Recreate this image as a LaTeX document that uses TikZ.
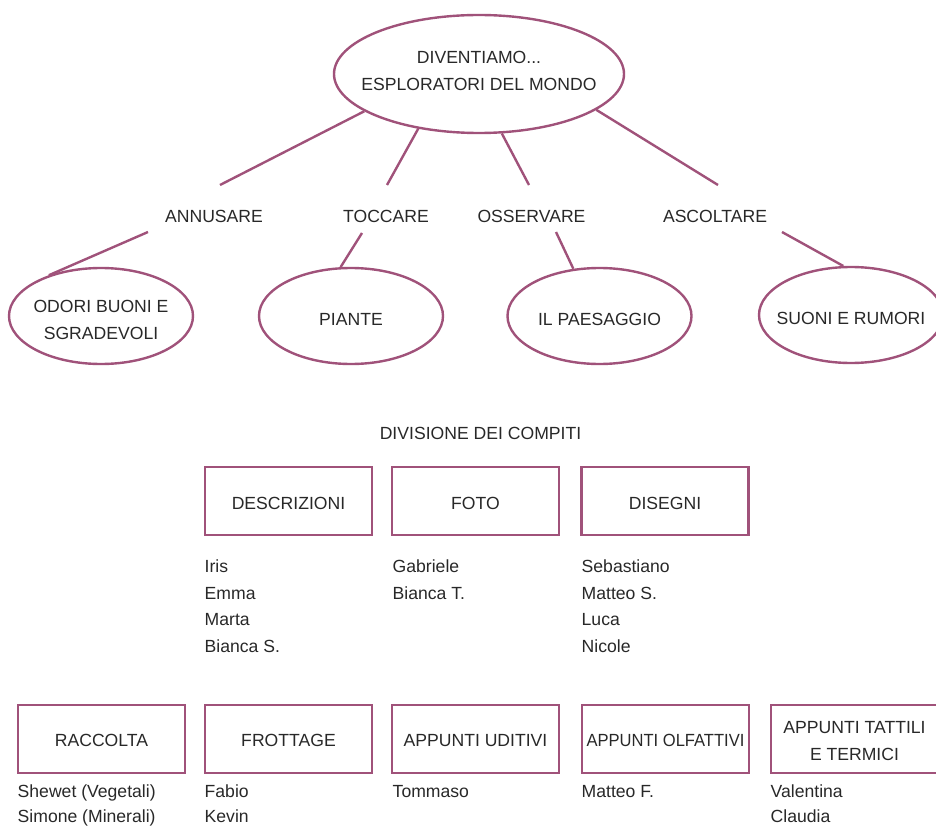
\documentclass[tikz,border=0pt]{standalone}
\usepackage{fontspec}
\setmainfont{Liberation Sans}
\usetikzlibrary{shapes.geometric}
\definecolor{mauve}{RGB}{160,82,122}
\definecolor{ink}{RGB}{40,40,40}
\newcommand{\downstrut}[1]{\rule{0pt}{#1}}
\newcommand{\upstrut}{\rule[-6pt]{0pt}{6pt}}
\begin{document}
\begin{tikzpicture}[x=1pt,y=-1pt,
  every node/.style={text=ink,font=\fontsize{17.6}{26.7}\selectfont,inner sep=0pt},
  oval/.style={ellipse,draw=mauve,line width=2.4pt,minimum width=184pt,minimum height=96pt,align=center,inner xsep=-15pt},
  bigoval/.style={oval,minimum width=290pt,minimum height=118pt,inner xsep=-25pt},
  taskbox/.style={rectangle,draw=mauve,line width=2.4pt,minimum width=167pt,minimum height=68pt,align=center},
  conn/.style={draw=mauve,line width=2.4pt},
  lbl/.style={anchor=center},
  who/.style={anchor=base west}]
\useasboundingbox (0,0) rectangle (936,826);
\clip (0,0) rectangle (936,826);
% top
\node[bigoval] (top) at (479,74) {DIVENTIAMO...\\ESPLORATORI DEL MONDO\upstrut};
% verbs
\node[lbl] (ann) at (214,216) {ANNUSARE};
\node[lbl] (toc) at (386,216) {TOCCARE};
\node[lbl] (oss) at (531.5,216) {OSSERVARE};
\node[lbl] (asc) at (715,216) {ASCOLTARE};
\coordinate (annT) at (220,185);
\coordinate (tocT) at (387,185);
\coordinate (ossT) at (529,185);
\coordinate (ascT) at (718,185);
\draw[conn] (top.198) -- (annT);
\draw[conn] (top.222) -- (tocT);
\draw[conn] (top.291) -- (ossT);
\draw[conn] (top.343) -- (ascT);
% ovals
\node[oval] (odo) at (101,316) {\downstrut{20pt}ODORI BUONI E\\SGRADEVOLI};
\node[oval] (pia) at (351,316) {\downstrut{19pt}PIANTE};
\node[oval] (pae) at (599.5,316) {\downstrut{19pt}IL PAESAGGIO};
\node[oval] (suo) at (851,315) {\downstrut{19pt}SUONI E RUMORI};
\coordinate (annB) at (148,232);
\coordinate (tocB) at (362,233);
\coordinate (ossB) at (556,232);
\coordinate (ascB) at (782,232);
\draw[conn] (annB) -- (odo.142);
\draw[conn] (tocB) -- (pia.102);
\draw[conn] (ossB) -- (pae.119);
\draw[conn] (ascB) -- (suo.99);
% division
\node[lbl] (div) at (480.5,433) {DIVISIONE DEI COMPITI};
\node[taskbox] (des) at (288.5,501) {\downstrut{17pt}DESCRIZIONI};
\node[taskbox] (fot) at (475.5,501) {\downstrut{17pt}FOTO};
\node[taskbox] (dis) at (665,501) {\downstrut{17pt}DISEGNI};
\foreach \n [count=\i] in {Iris,Emma,Marta,Bianca S.}
  \node[who] (des\i) at (204.5,572.3+26.7*\i-26.7) {\n};
\foreach \n [count=\i] in {Gabriele,Bianca T.}
  \node[who] (fot\i) at (392.5,572.3+26.7*\i-26.7) {\n};
\foreach \n [count=\i] in {Sebastiano,Matteo S.,Luca,Nicole}
  \node[who] (dis\i) at (581.5,572.3+26.7*\i-26.7) {\n};
% row 2
\node[taskbox] (rac) at (101.5,739) {\downstrut{15pt}RACCOLTA};
\node[taskbox] (fro) at (288.5,739) {\downstrut{15pt}FROTTAGE};
\node[taskbox] (udi) at (475.5,739) {\downstrut{15pt}APPUNTI UDITIVI};
\node[taskbox] (olf) at (665.5,739) {\downstrut{15pt}\scalebox{0.94}[1]{APPUNTI OLFATTIVI}};
\node[taskbox] (tat) at (854.5,739) {\downstrut{16.5pt}APPUNTI TATTILI\\E TERMICI};
\foreach \n [count=\i] in {Shewet (Vegetali),Simone (Minerali)}
  \node[who] (rac\i) at (17.5,797.5+25.2*\i-25.2) {\n};
\foreach \n [count=\i] in {Fabio,Kevin}
  \node[who] (fro\i) at (204.5,797.5+25.2*\i-25.2) {\n};
\node[who] (udi1) at (392.5,797.5) {Tommaso};
\node[who] (olf1) at (581.5,797.5) {Matteo F.};
\foreach \n [count=\i] in {Valentina,Claudia}
  \node[who] (tat\i) at (770.5,797.5+25.2*\i-25.2) {\n};
\end{tikzpicture}
\end{document}
